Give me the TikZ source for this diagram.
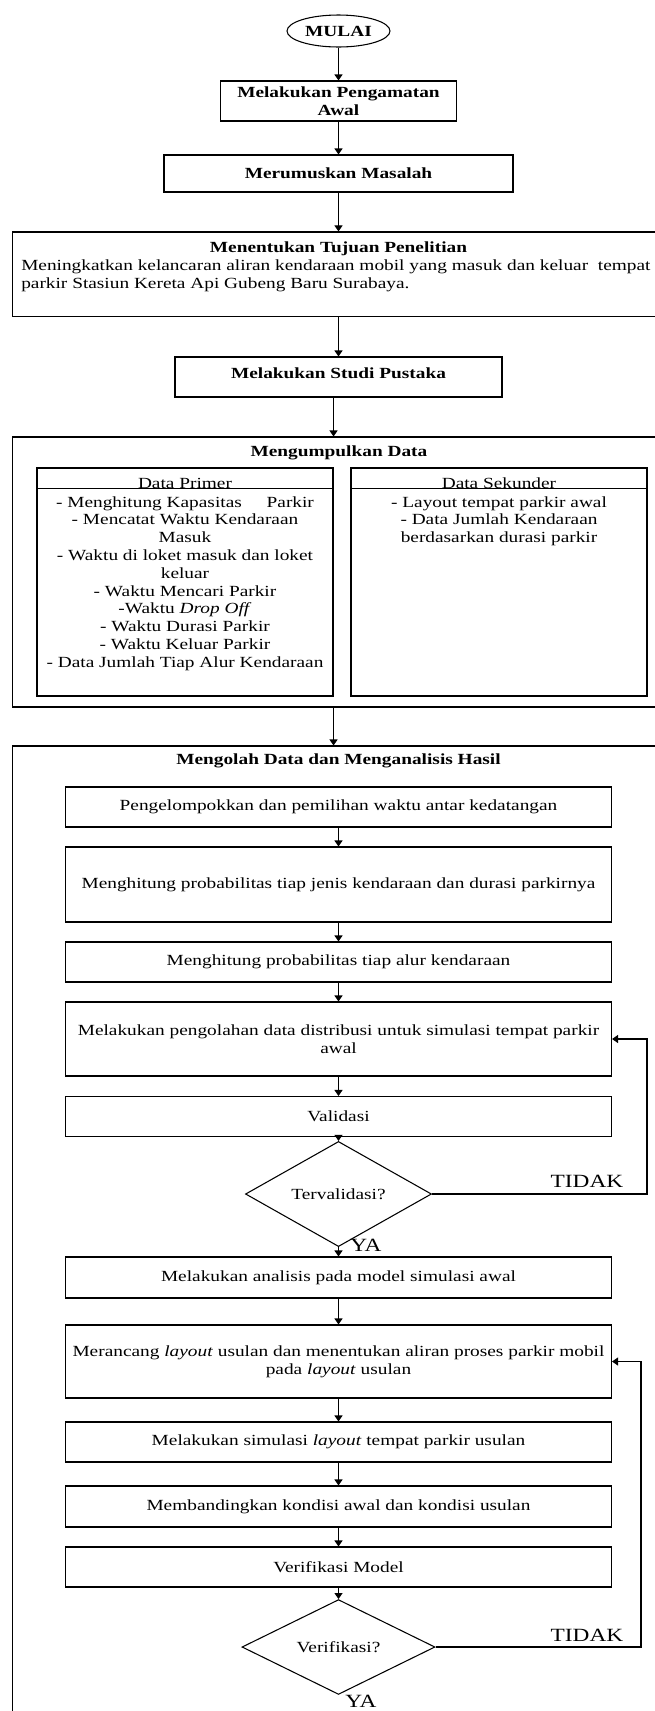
\documentclass[tikz,border=0pt]{standalone}
\usepackage{fontspec}
\setmainfont[FakeStretch=1.25]{Liberation Serif}
\usepackage{tikz}
\usetikzlibrary{shapes, arrows.meta, positioning}

\begin{document}
\begin{tikzpicture}
  [
    x=0.75pt, y=-0.75pt,
    >={Triangle[length=4.5pt, width=6pt]},
    every node/.style={font=\fontsize{11.6pt}{13.5pt}\selectfont},
    Bold/.style={font=\fontsize{11.6pt}{13.5pt}\selectfont\bfseries},
    Oval/.style={ellipse, draw=black, line width=0.8pt, inner sep=0pt},
    Box/.style={rectangle, draw=black, line width=0.8pt, inner sep=0pt, align=center},
    Inner/.style={Box, minimum width=409.5pt},
    Outer/.style={rectangle, draw=black, line width=0.8pt, inner sep=0pt, minimum width=515.6pt},
    Decision/.style={diamond, draw=black, line width=0.8pt, inner sep=0pt},
    Row/.style={anchor=base, inner sep=0pt},
    Answer/.style={font=\fontsize{14pt}{16pt}\selectfont, inner sep=0pt},
    Line/.style={line width=0.8pt}
  ]
  \useasboundingbox (0,0) rectangle (655,1711);
  \clip (0,0) rectangle (655,1711);
  % Nodes
  \node[Oval, Bold, minimum width=77.25pt, minimum height=24pt] (mulai) at (338.5,31) {MULAI};
  \node[Box, Bold, minimum width=177pt, minimum height=30pt] (amati) at (338.5,101) {Melakukan Pengamatan\\Awal};
  \node[Box, Bold, minimum width=261.75pt, minimum height=27.75pt] (rumus) at (338.5,173.5) {Merumuskan Masalah};
  \node[Outer, minimum height=63.4pt] (tujuan) at (356.25,274.25) {};
  \node[Bold, Row] (tujuan-judul) at (338.5,252) {Menentukan Tujuan Penelitian};
  \node[Row, anchor=base west] (tujuan-1) at (21,270) {Meningkatkan kelancaran aliran kendaraan mobil yang masuk dan keluar\ \ tempat};
  \node[Row, anchor=base west] (tujuan-2) at (21,288) {parkir Stasiun Kereta Api Gubeng Baru Surabaya.};
  \node[Box, Bold, minimum width=245.25pt, minimum height=30pt, text depth=6pt] (studi) at (338.5,377) {Melakukan Studi Pustaka};
  \node[Outer, minimum height=202.5pt] (kumpul) at (356.25,572) {};
  \node[Bold, Row] (kumpul-judul) at (339,456) {Mengumpulkan Data};
  \node[Box, minimum width=222pt, minimum height=171pt] (primer) at (185,582) {};
  \node[Box, minimum width=222pt, minimum height=171pt] (sekunder) at (499,582) {};
  \node[Row] (primer-judul) at (185,488) {Data Primer};
  \node[Row] (sekunder-judul) at (499,488) {Data Sekunder};
  \foreach \baris [count=\i] in {{- Menghitung Kapasitas\hspace{15pt} Parkir},
      {- Mencatat Waktu Kendaraan}, {Masuk}, {- Waktu di loket masuk dan loket}, {keluar},
      {- Waktu Mencari Parkir}, {-Waktu \textit{Drop Off}}, {- Waktu Durasi Parkir},
      {- Waktu Keluar Parkir}, {- Data Jumlah Tiap Alur Kendaraan}}
    \node[Row] (primer-\i) at (185,{507+17.8*(\i-1)}) {\baris};
  \foreach \baris [count=\i] in {{- Layout tempat parkir awal}, {- Data Jumlah Kendaraan},
      {berdasarkan durasi parkir}}
    \node[Row] (sekunder-\i) at (499,{507+17.8*(\i-1)}) {\baris};
  \node[Outer, minimum height=760.5pt] (olah) at (356.25,1253) {};
  \node[Bold, Row] (olah-judul) at (338.5,764) {Mengolah Data dan Menganalisis Hasil};
  \node[Inner, minimum height=30pt] (kelompok) at (338.5,807) {Pengelompokkan dan pemilihan waktu antar kedatangan};
  \node[Inner, minimum height=56.25pt] (jenis) at (338.5,884.5) {Menghitung probabilitas tiap jenis kendaraan dan durasi parkirnya};
  \node[Inner, minimum height=30pt] (alur) at (338.5,962) {Menghitung probabilitas tiap alur kendaraan};
  \node[Inner, minimum height=55.5pt] (distribusi) at (338.5,1039) {Melakukan pengolahan data distribusi untuk simulasi tempat parkir\\awal};
  \node[Inner, minimum height=30pt] (validasi) at (338.5,1116.5) {Validasi};
  \node[Decision, minimum width=139.5pt, minimum height=54.75pt] (cekvalid) at (338.5,1194) {Tervalidasi?};
  \node[Inner, minimum height=30.75pt] (analisis) at (338.5,1277.5) {Melakukan analisis pada model simulasi awal};
  \node[Inner, minimum height=54.75pt] (rancang) at (338.5,1361.5) {Merancang \textit{layout} usulan dan menentukan aliran proses parkir mobil\\pada \textit{layout} usulan};
  \node[Inner, minimum height=30pt] (simulasi) at (338.5,1442) {Melakukan simulasi \textit{layout} tempat parkir usulan};
  \node[Inner, minimum height=30.75pt] (banding) at (338.5,1506.5) {Membandingkan kondisi awal dan kondisi usulan};
  \node[Inner, minimum height=30pt] (verifikasi) at (338.5,1567) {Verifikasi Model};
  \node[Decision, minimum width=144.75pt, minimum height=60pt] (cekverif) at (338.5,1647) {Verifikasi?};
  \node[Answer] (tidak1) at (587,1181) {TIDAK};
  \node[Answer] (ya1) at (366,1245) {YA};
  \node[Answer] (tidak2) at (587,1635) {TIDAK};
  \node[Answer] (ya2) at (361,1701) {YA};
  \coordinate (belok1) at (647,1194);
  \coordinate (belok2) at (641,1647);
  % Lines
  \draw[Line] ([yshift=-15.75pt]primer.north west) -- ([yshift=-15.75pt]primer.north east);
  \draw[Line] ([yshift=-15.75pt]sekunder.north west) -- ([yshift=-15.75pt]sekunder.north east);
  \path [->, draw, Line] (mulai) -- (amati);
  \path [->, draw, Line] (amati) -- (rumus);
  \path [->, draw, Line] (rumus) -- (rumus |- tujuan.north);
  \path [->, draw, Line] (tujuan.south -| rumus) -- (studi);
  \path [->, draw, Line] (studi.south -| primer.east) -- (primer.east |- kumpul.north);
  \path [->, draw, Line] (kumpul.south -| primer.east) -- (primer.east |- olah.north);
  \path [->, draw, Line] (kelompok) -- (jenis);
  \path [->, draw, Line] (jenis) -- (alur);
  \path [->, draw, Line] (alur) -- (distribusi);
  \path [->, draw, Line] (distribusi) -- (validasi);
  \path [->, draw, Line] (validasi) -- (cekvalid);
  \path [->, draw, Line] (cekvalid) -- (analisis);
  \path [->, draw, Line] (analisis) -- (rancang);
  \path [->, draw, Line] (rancang) -- (simulasi);
  \path [->, draw, Line] (simulasi) -- (banding);
  \path [->, draw, Line] (banding) -- (verifikasi);
  \path [->, draw, Line] (verifikasi) -- (cekverif);
  \path [->, draw, Line] (cekvalid.east) -- (belok1) |- (distribusi.east);
  \path [->, draw, Line] (cekverif.east) -- (belok2) |- (rancang.east);
\end{tikzpicture}
\end{document}
